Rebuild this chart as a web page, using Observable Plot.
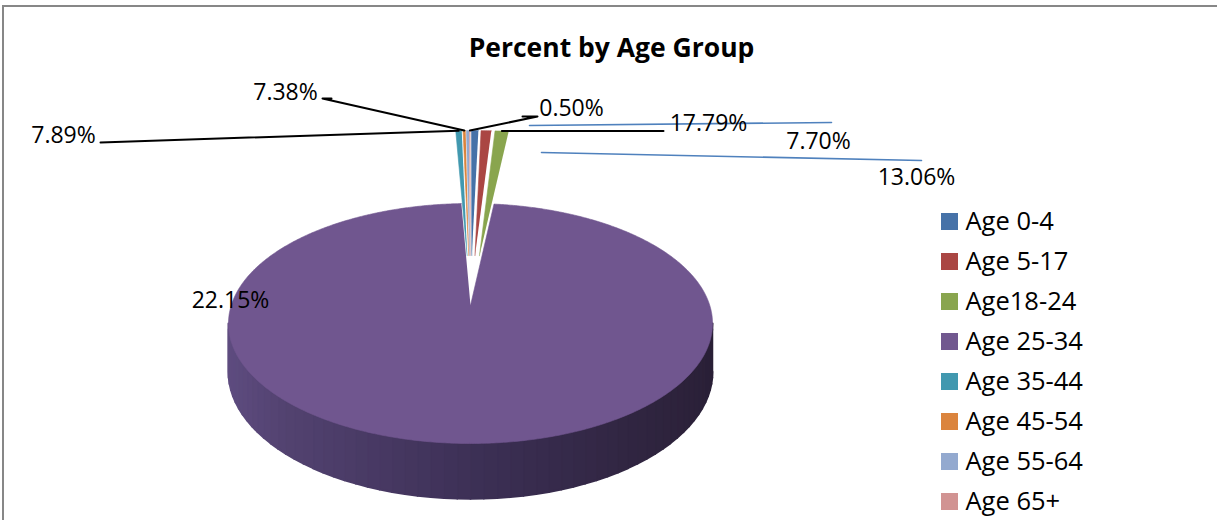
<!DOCTYPE html>
<html><head><meta charset="utf-8">
<script src="https://cdn.jsdelivr.net/npm/d3@7"></script>
<script src="https://cdn.jsdelivr.net/npm/@observablehq/plot@0.6"></script>
<style>
html,body{margin:0;padding:0;background:#fff;}
#chart{position:relative;width:1217px;height:520px;overflow:hidden;}
#chart svg{position:absolute;left:0;top:0;}
.fl{position:absolute;background:#878787;pointer-events:none;}
#ftop{left:2px;top:5px;width:1215px;height:2px;}
#fleft{left:2px;top:5px;width:2px;height:515px;}
</style></head><body><div id="chart"><div id="ftop" class="fl"></div><div id="fleft" class="fl"></div></div>
<script>
// ---- data ----
const title = "Percent by Age Group";
const categories = ["Age 0-4","Age 5-17","Age18-24","Age 25-34","Age 35-44","Age 45-54","Age 55-64","Age 65+"];
const colors = ["#4672A8","#AA4643","#89A54E","#71588F","#4198AF","#DB843D","#93A9CF","#D19392"];
// share of the circle each slice takes in the picture (percent)
const shares = [0.40, 0.60, 0.80, 97.50, 0.35, 0.15, 0.15, 0.05];
// printed data labels (one slice shows none)
const labels = ["13.06%","7.70%","17.79%","22.15%","7.89%","7.38%",null,"0.50%"];

// ---- layout (positions only) ----
const geo = {cx:470, cy:305, rx:239.3, ry:117.3, k:0.15, depth:47, explode:0.455, sliverR:1.466};
const labelLayout = [
  {tx:916, ty:177, leader:[[541,152],[921,160]], own:false, color:"#4F81BD"},
  {tx:818, ty:141, leader:[[529,125],[831,122]], own:false, color:"#4F81BD"},
  {tx:708, ty:123, leader:[[663,"a"]], own:true, color:"#000"},
  {tx:230, ty:300, leader:null},
  {tx:63,  ty:135, leader:[[100,142]], own:true, color:"#000"},
  {tx:285, ty:92,  leader:[[331,98],[322,98]], own:true, color:"#000"},
  null,
  {tx:571, ty:108, leader:[[522,116],[537,116]], own:true, color:"#000"}
];
const font = "'Open Sans', sans-serif";

// ---- geometry ----
const pie = d3.pie().sort(null).value(d => d)(shares);
function proj(u, v, h = 0) {
  const s = 1 / (1 - geo.k * v);
  return {x: geo.cx + geo.rx * u * s, y: geo.cy + geo.ry * v * s + geo.depth * h * s};
}
const step = Math.PI / 360;
function angles(a0, a1) {
  const n = Math.max(2, Math.ceil((a1 - a0) / step));
  return d3.range(n + 1).map(j => a0 + (a1 - a0) * j / n);
}
const polys = [];
let pid = 0;
function addPoly(pts, color) { const id = pid++; pts.forEach(p => polys.push({id, x: p.x, y: p.y, color})); }

const bigIdx = shares.indexOf(d3.max(shares));
const big = pie[bigIdx];
// side wall of the large slice (visible front part), shaded strips
const visA0 = Math.acos(-geo.k), visA1 = 2 * Math.PI - visA0;
const b0 = Math.max(big.startAngle, visA0), b1 = Math.min(big.endAngle, visA1);
const xRight = proj(Math.sin(b0), -Math.cos(b0)).x, xLeft = proj(Math.sin(b1), -Math.cos(b1)).x;
const sideColor = d3.scaleLinear().domain([0, 0.12, 0.5, 1]).range(["#5E4C7F", "#524270", "#3D3056", "#2A2037"]);
const N = 60;
for (let j = 0; j < N; j++) {
  const a0 = b0 + (b1 - b0) * j / N, a1 = b0 + (b1 - b0) * (j + 1) / N;
  const am = (a0 + a1) / 2;
  const t = (proj(Math.sin(am), -Math.cos(am)).x - xLeft) / (xRight - xLeft);
  const pts = [
    proj(Math.sin(a0), -Math.cos(a0), 0), proj(Math.sin(a1), -Math.cos(a1), 0),
    proj(Math.sin(a1), -Math.cos(a1), 1), proj(Math.sin(a0), -Math.cos(a0), 1)
  ];
  addPoly(pts, d3.color(sideColor(t)).formatHex());
}
const sideCount = pid;
// top face of the large slice
addPoly([proj(0, 0), ...angles(big.startAngle, big.endAngle).map(a => proj(Math.sin(a), -Math.cos(a)))], "#70568F");

// exploded small slices
const anchors = [];
pie.forEach((p, i) => {
  if (i === bigIdx) return;
  const mid = (p.startAngle + p.endAngle) / 2;
  const cu = geo.explode * Math.sin(mid), cv = -geo.explode * Math.cos(mid);
  const R = geo.sliverR;
  const pts = [proj(cu, cv), ...angles(p.startAngle, p.endAngle).map(a => proj(cu + R * Math.sin(a), cv - R * Math.cos(a)))];
  addPoly(pts, colors[i]);
  anchors[i] = proj(cu + R * Math.sin(mid), cv - R * Math.cos(mid));
});

// leader lines
const leaders = [];
labelLayout.forEach((L, i) => {
  if (!L || !L.leader) return;
  let pts = L.leader.map(([x, y]) => ({x, y}));
  if (L.own) {
    const a = anchors[i];
    pts = pts.map(p => ({x: p.x, y: p.y === "a" ? a.y : p.y}));
    pts = [a, ...pts.slice().reverse()];
  }
  pts.forEach(p => leaders.push({id: i, x: p.x, y: p.y, color: L.color}));
});

const labelRows = labels.map((t, i) => ({t, i, L: labelLayout[i]})).filter(d => d.t && d.L);
const legendRows = categories.map((c, i) => ({c, i, color: colors[i]}));

const plot = Plot.plot({
  width: 1217, height: 520,
  margin: 0,
  x: {domain: [0, 1217], range: [0, 1217], axis: null},
  y: {domain: [0, 520], range: [0, 520], axis: null},
  color: {type: "identity"},
  style: {background: "transparent", overflow: "visible"},
  marks: [
    Plot.line(polys.filter(d => d.id < sideCount), {x: "x", y: "y", z: "id", fill: "color", stroke: "color", strokeWidth: 2, curve: "linear"}),
    Plot.line(polys.filter(d => d.id >= sideCount), {x: "x", y: "y", z: "id", fill: "color", stroke: "color", strokeWidth: 0.6, curve: "linear"}),
    Plot.line(leaders.filter(d => d.color === "#000"), {x: "x", y: "y", z: "id", stroke: "#000", strokeWidth: 2}),
    Plot.line(leaders.filter(d => d.color !== "#000"), {x: "x", y: "y", z: "id", stroke: "color", strokeWidth: 1.6}),
    Plot.text(labelRows, {x: d => d.L.tx, y: d => d.L.ty, text: "t", fontSize: 23, fontFamily: font, fill: "#000", textAnchor: "middle"}),
    Plot.text([title], {x: 611, y: 48, text: d => d, fontSize: 26.5, fontWeight: "bold", fontFamily: font, fill: "#000"}),
    Plot.rect(legendRows, {x1: 941, x2: 958, y1: d => 213 + 40 * d.i, y2: d => 230 + 40 * d.i, fill: "color"}),
    Plot.text(legendRows, {x: 965, y: d => 221.5 + 40 * d.i, text: "c", textAnchor: "start", fontSize: 25.5, fontFamily: font, fill: "#000"})
  ]
});
document.getElementById("chart").prepend(plot);
</script>
</body></html>
